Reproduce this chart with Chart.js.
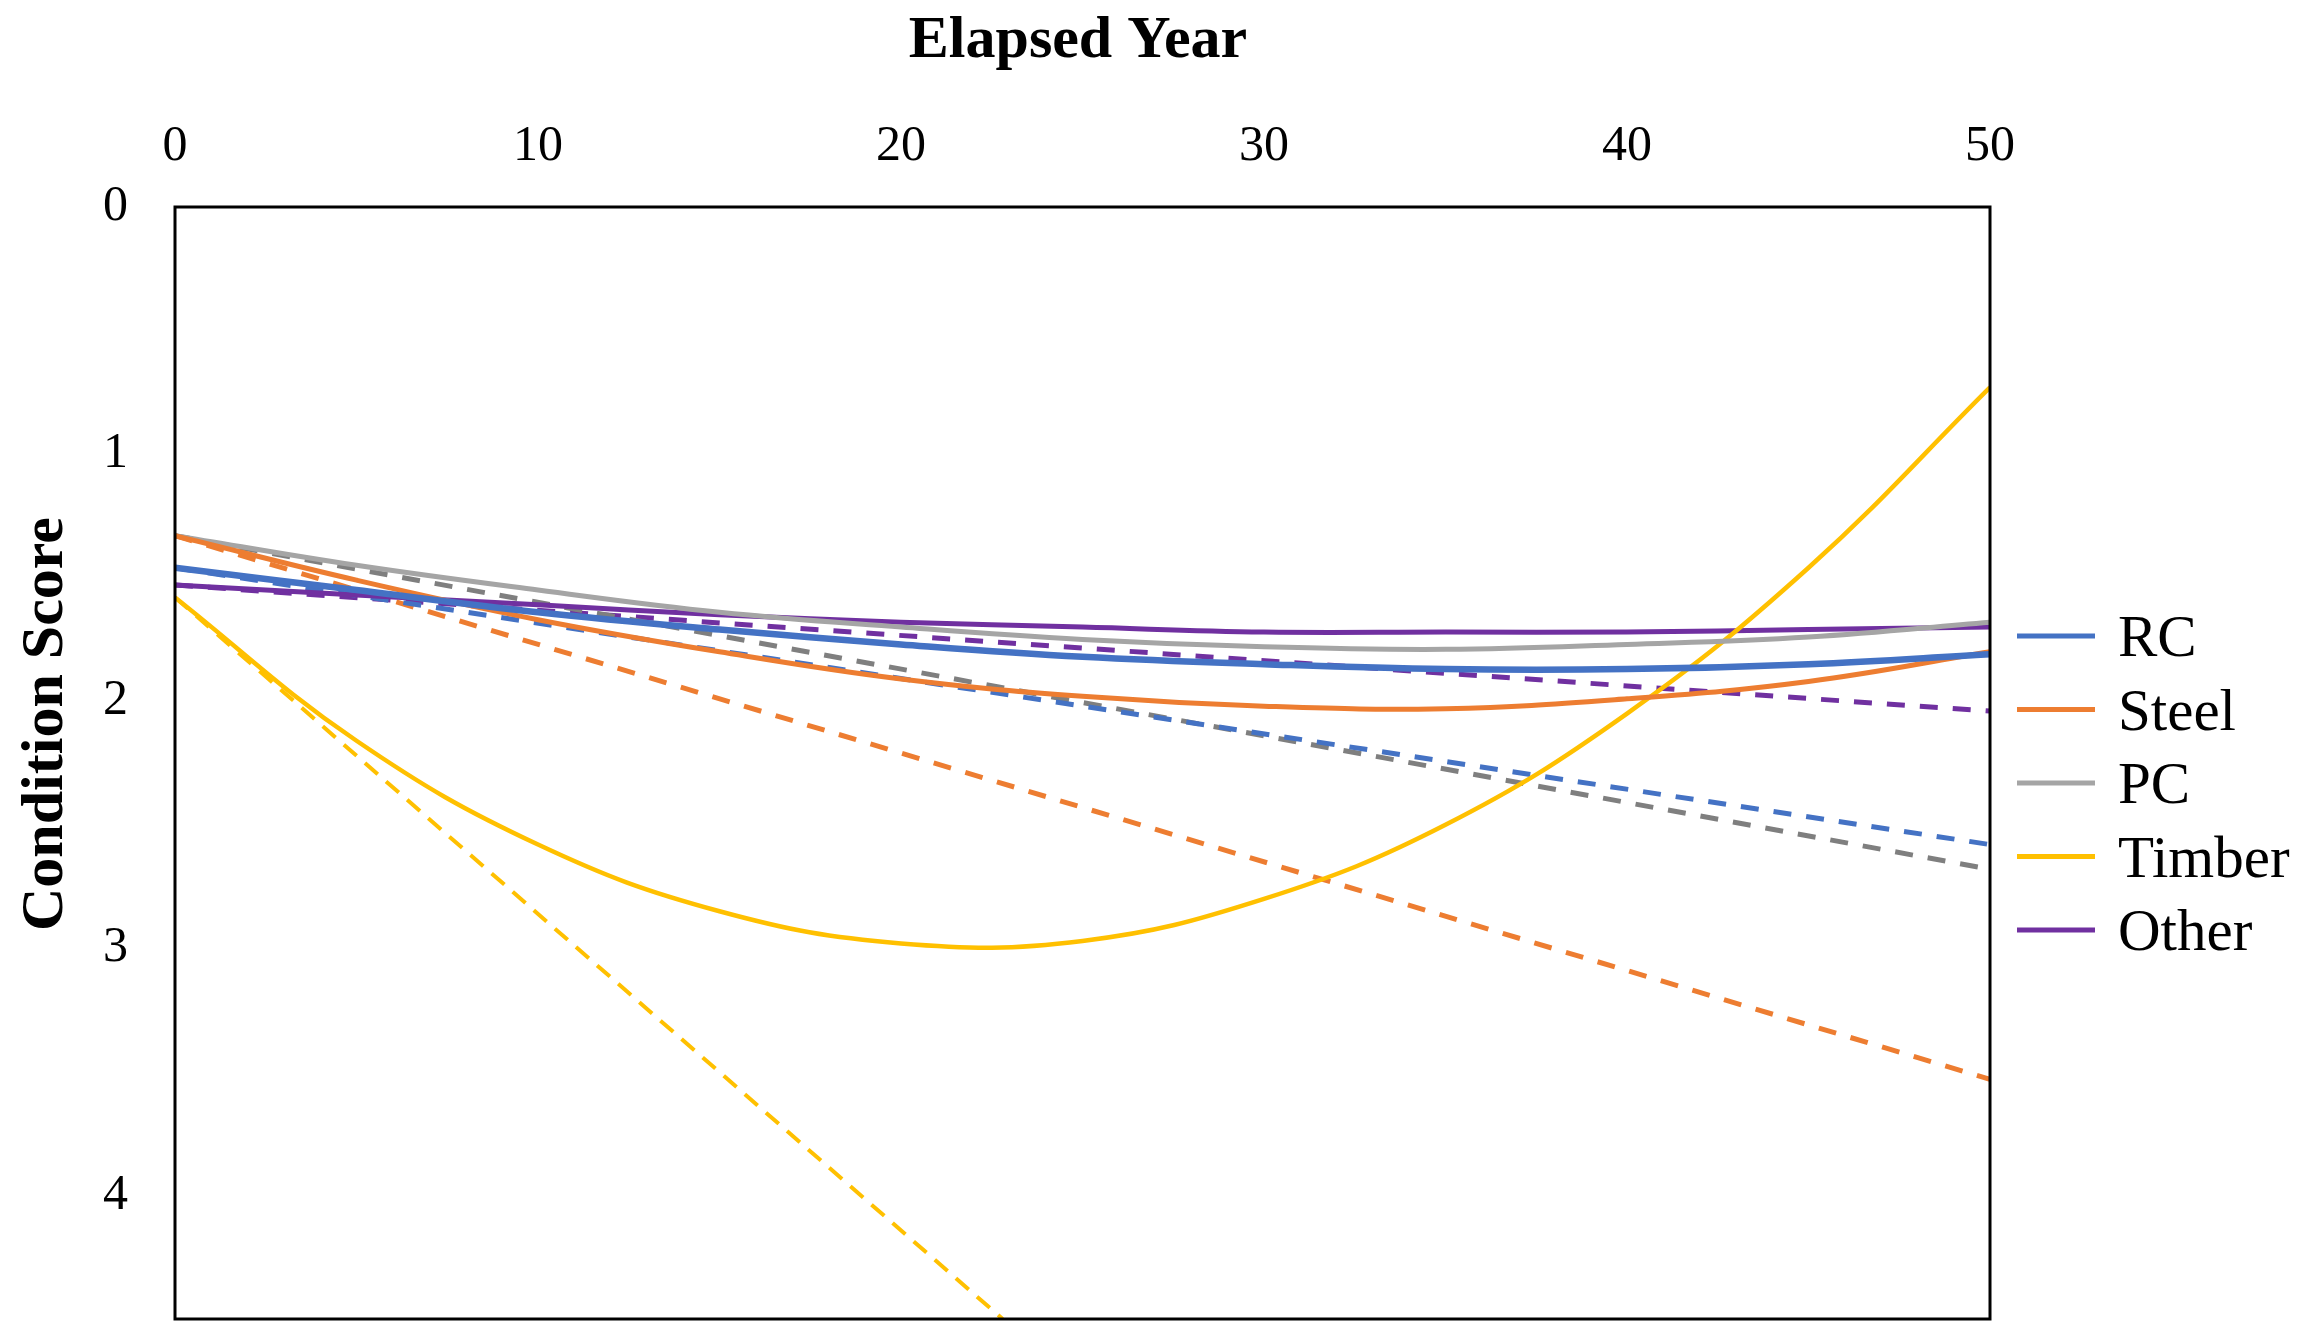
<!DOCTYPE html>
<html>
<head>
<meta charset="utf-8">
<script src="https://cdn.jsdelivr.net/npm/chart.js@4.4.1/dist/chart.umd.min.js"></script>
<style>
  body { margin: 0; background: #fff; }
  canvas { display: block; }
</style>
</head>
<body>
<canvas id="chart" width="2305" height="1336"></canvas>
<script>
// years
const years = [0, 5, 10, 15, 20, 25, 30, 35, 40, 45, 50]
// fitted curves (solid)
const rcFit     = [1.46, 1.55, 1.64, 1.71, 1.77, 1.82, 1.85, 1.87, 1.87, 1.85, 1.81]
const steelFit  = [1.33, 1.51, 1.67, 1.80, 1.91, 1.98, 2.02, 2.03, 1.99, 1.92, 1.80]
const pcFit     = [1.33, 1.45, 1.55, 1.64, 1.70, 1.75, 1.78, 1.79, 1.77, 1.74, 1.68]
const timberFit = [1.58, 2.16, 2.58, 2.85, 2.98, 2.97, 2.80, 2.50, 2.05, 1.46, 0.73]
const otherFit  = [1.53, 1.57, 1.61, 1.65, 1.68, 1.70, 1.72, 1.72, 1.72, 1.71, 1.70]
// linear trends (dashed), start / end
const trendYears  = [0, 50]
const rcTrend     = [1.46, 2.58]
const steelTrend  = [1.33, 3.53]
const pcTrend     = [1.33, 2.68]
const otherTrend  = [1.53, 2.04]
const timberTrendYears = [0, 22.8]
const timberTrend = [1.58, 4.5]

const names = ['RC', 'Steel', 'PC', 'Timber', 'Other']
const colors = ['#4472C4', '#ED7D31', '#A5A5A5', '#FFC000', '#7030A0']
const xTicks = [0, 10, 20, 30, 40, 50]
const yTicks = [0, 1, 2, 3, 4]

const pts = (xs, ys) => xs.map((x, i) => ({ x: x, y: ys[i] }))

const serif = '"Liberation Serif", "Times New Roman", serif'

function solid(i, vals, width) {
  return {
    label: names[i],
    data: pts(years, vals),
    borderColor: colors[i],
    borderWidth: width,
    pointRadius: 0,
    tension: 0.4,
    fill: false
  }
}
function dashed(label, xs, vals, color, width, dash) {
  return {
    label: label,
    data: pts(xs, vals),
    borderColor: color,
    borderWidth: width,
    borderDash: dash,
    pointRadius: 0,
    tension: 0,
    fill: false
  }
}

const datasets = [
  solid(0, rcFit, 6.5),
  solid(1, steelFit, 5),
  solid(2, pcFit, 5),
  solid(3, timberFit, 4.5),
  solid(4, otherFit, 5),
  dashed('RC trend', trendYears, rcTrend, '#4472C4', 5, [18, 15]),
  dashed('Steel trend', trendYears, steelTrend, '#ED7D31', 5, [18, 15]),
  dashed('PC trend', trendYears, pcTrend, '#7F7F7F', 5, [18, 15]),
  dashed('Timber trend', timberTrendYears, timberTrend, '#FFC000', 4, [17, 11]),
  dashed('Other trend', trendYears, otherTrend, '#7030A0', 5, [18, 15])
]

// frame, axis titles and legend
const decor = {
  id: 'decor',
  afterDatasetsDraw(chart) {
    const ctx = chart.ctx
    const a = chart.chartArea
    ctx.save()
    ctx.strokeStyle = '#000'
    ctx.lineWidth = 3
    ctx.strokeRect(a.left, a.top, a.right - a.left, a.bottom - a.top)

    ctx.fillStyle = '#000'
    ctx.font = 'bold 60px ' + serif
    ctx.textAlign = 'center'
    ctx.textBaseline = 'alphabetic'
    ctx.fillText('Elapsed Year', 1078, 57)

    ctx.translate(62, 724)
    ctx.rotate(-Math.PI / 2)
    ctx.fillText('Condition Score', 0, 0)
    ctx.restore()

    ctx.save()
    ctx.font = '59px ' + serif
    ctx.textAlign = 'left'
    ctx.textBaseline = 'alphabetic'
    names.forEach((n, i) => {
      const y = 636 + i * 73.5
      ctx.strokeStyle = colors[i]
      ctx.lineWidth = 5
      ctx.beginPath()
      ctx.moveTo(2017, y)
      ctx.lineTo(2095, y)
      ctx.stroke()
      ctx.fillStyle = '#000'
      ctx.fillText(n, 2118, y + 20)
    })
    ctx.restore()
  }
}

new Chart(document.getElementById('chart'), {
  type: 'line',
  data: { datasets: datasets },
  options: {
    responsive: false,
    animation: false,
    devicePixelRatio: 1,
    layout: { padding: { left: 0, right: 315, top: 0, bottom: 17 } },
    plugins: { legend: { display: false }, tooltip: { enabled: false } },
    scales: {
      x: {
        type: 'linear',
        position: 'top',
        min: 0,
        max: 50,
        grid: { display: false, drawTicks: false },
        border: { display: false },
        afterFit: s => { s.height = 207; s.paddingLeft = 0; s.paddingRight = 0 },
        afterBuildTicks: s => { s.ticks = xTicks.map(v => ({ value: v })) },
        ticks: { padding: 30, color: '#000', font: { family: serif, size: 50 } }
      },
      y: {
        type: 'linear',
        reverse: true,
        min: 0,
        max: 4.5,
        grid: { display: false, drawTicks: false },
        border: { display: false },
        afterFit: s => { s.width = 175; s.paddingTop = 0; s.paddingBottom = 0 },
        afterBuildTicks: s => { s.ticks = yTicks.map(v => ({ value: v })) },
        ticks: { padding: 47, color: '#000', font: { family: serif, size: 50 } }
      }
    }
  },
  plugins: [decor]
})
</script>
</body>
</html>
